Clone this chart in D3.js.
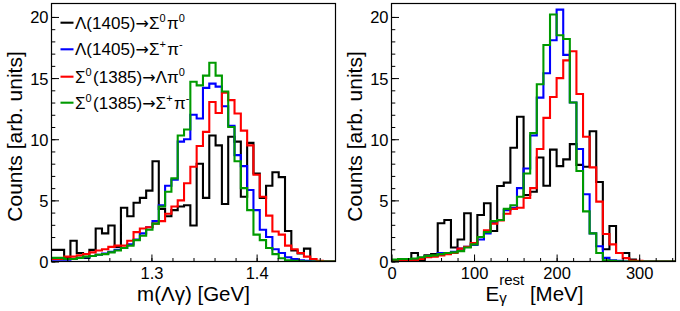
<!DOCTYPE html>
<html><head><meta charset="utf-8">
<script src="https://cdn.jsdelivr.net/npm/d3@7"></script>
<style>
body{margin:0;background:#fff}
svg{display:block}
text{font-family:"Liberation Sans",Arial,Helvetica,sans-serif;fill:#000}
</style>
</head><body>
<svg id="chart" width="680" height="311"></svg>
<script>
// ---------- data ----------
const massRange = [1.205, 1.475];      // GeV, 45 bins of 6 MeV
const energyRange = [0, 344];          // MeV, 43 bins of 8 MeV
const countRange = [0, 21.1];
const massTicks = [1.3, 1.4];
const energyTicks = [0, 100, 200, 300];
const countTicks = [0, 5, 10, 15, 20];

const seriesNames = ["Λ(1405)→Σ0π0", "Λ(1405)→Σ+π-", "Σ0(1385)→Λπ0", "Σ0(1385)→Σ+π-"];
const seriesColors = ["#000000", "#0000ff", "#ff0000", "#009a00"];

// m(Λγ) distributions
const massL1405S0Pi0 = [0.95,0.95,0.35,1.7,0.7,0.3,0.95,2.7,2.3,2.95,1.2,4.4,3.7,4.8,5.2,5.8,8.2,4.3,3.7,4.2,4.5,4.6,2.95,8.0,5.2,10.3,9.5,4.7,10.2,9.8,5.3,9.7,7.2,5.2,6.2,7.3,6.9,2.5,0.9,0.65,1.05,0,0,0,0];
const massL1405SpPim = [0.15,0.15,0.15,0.2,0.3,0.35,0.45,0.55,0.65,0.8,0.95,1.1,1.4,1.8,2.3,2.8,3.3,4.6,6.2,6.7,9.8,10.0,12.0,11.7,14.2,14.55,14.3,12.7,11.1,8.7,7.8,5.85,4.2,2.6,2.0,1.0,0.7,0.35,0.2,0.1,0.05,0,0,0,0];
const massS1385LPi0 = [0.2,0.2,0.4,0.4,0.5,0.6,0.75,0.9,1.0,1.2,1.3,1.3,1.7,2.4,2.7,2.8,3.1,3.3,3.9,4.5,5.0,6.4,7.75,9.45,10.6,13.05,12.15,13.8,13.2,12.1,10.7,9.5,7.1,5.3,3.75,2.45,2.2,1.3,1.0,0.7,0.4,0.2,0.05,0,0];
const massS1385SpPim = [0.3,0.3,0.2,0.2,0.3,0.4,0.45,0.55,0.6,0.75,0.9,1.1,1.3,1.75,2.1,2.6,3.1,4.5,5.7,6.8,10.3,10.8,14.7,14.4,15.2,16.25,15.2,13.9,11.0,8.2,6.0,4.2,2.2,1.75,1.1,0.6,0.27,0.1,0.05,0.02,0,0,0,0,0];

// E_gamma^rest distributions
const energyL1405S0Pi0 = [0.1,0.15,0.15,0.7,0.05,0.5,0.6,3.13,3.4,1.15,1.8,3.95,1.4,3.8,4.76,2.5,6.18,6.45,9.3,11.84,5.44,5.7,8.5,6.2,9.15,7.8,8.35,9.6,7.9,7.75,10.65,6.5,1.0,2.9,0.7,0.7,0.15,0,0,0,0,0,0];
const energyL1405SpPim = [0.1,0.15,0.2,0.2,0.3,0.4,0.45,0.7,0.7,0.8,1.05,1.2,1.35,1.8,2.3,3.2,3.4,4.2,4.4,6.0,7.6,10.3,13.4,15.4,18.1,20.6,16.9,13.0,9.2,5.5,2.3,1.25,0.3,0.1,0.05,0,0,0,0,0,0,0,0];
const energyS1385LPi0 = [0.05,0.1,0.1,0.1,0.2,0.35,0.4,0.5,0.6,0.7,1.05,1.2,1.5,2.0,2.55,3.1,3.35,3.9,4.3,4.4,5.2,6.0,9.2,11.75,13.45,15.0,16.45,17.2,13.7,10.2,7.7,4.9,2.25,1.4,0.7,0.28,0.08,0.05,0,0,0,0,0];
const energyS1385SpPim = [0.15,0.2,0.2,0.25,0.35,0.45,0.5,0.6,0.7,0.75,0.85,1.15,1.4,2.0,2.4,3.3,3.4,4.3,4.6,5.3,7.2,10.5,14.5,17.7,20.2,18.5,18.2,13.0,7.4,4.1,2.3,0.7,0.1,0.05,0.02,0,0,0,0,0,0,0,0];

// ---------- drawing ----------
const svg = d3.select("#chart");
const TOP = 3.5, BOTTOM = 261.5;

function drawPanel(cfg) {
  const g = svg.append("g");
  const x = d3.scaleLinear().domain(cfg.xRange).range([cfg.left, cfg.right]);
  const y = d3.scaleLinear().domain(countRange).range([BOTTOM, TOP]);
  const clipId = "clip" + cfg.id;
  svg.append("clipPath").attr("id", clipId).append("rect")
    .attr("x", cfg.left).attr("y", TOP).attr("width", cfg.right - cfg.left).attr("height", BOTTOM - TOP);

  // histograms
  const hg = g.append("g").attr("clip-path", `url(#${clipId})`);
  cfg.series.forEach((vals, i) => {
    const n = vals.length;
    const w = (cfg.xRange[1] - cfg.xRange[0]) / n;
    const pts = vals.map((v, k) => [cfg.xRange[0] + k * w, v]);
    pts.push([cfg.xRange[1], vals[n - 1]]);
    const line = d3.line().x(d => x(d[0])).y(d => y(d[1])).curve(d3.curveStepAfter);
    hg.append("path").attr("d", line(pts)).attr("fill", "none")
      .attr("stroke", seriesColors[i]).attr("stroke-width", 2.1).attr("stroke-linejoin", "miter");
  });

  // axes (ticks inside)
  const xMaj = g.append("g").attr("transform", `translate(0,${BOTTOM})`)
    .call(d3.axisBottom(x).tickValues(cfg.xTicks).tickSize(-7).tickPadding(5.5).tickFormat(cfg.fmt));
  const xMin = g.append("g").attr("transform", `translate(0,${BOTTOM})`)
    .call(d3.axisBottom(x).tickValues(cfg.xMinor).tickSize(-3.5).tickFormat(""));
  const yMaj = g.append("g").attr("transform", `translate(${cfg.left},0)`)
    .call(d3.axisLeft(y).tickValues(countTicks).tickSize(-7.5).tickPadding(3).tickFormat(d3.format("d")));
  const yMin = g.append("g").attr("transform", `translate(${cfg.left},0)`)
    .call(d3.axisLeft(y).tickValues(d3.range(0, 21, 1)).tickSize(-3.8).tickFormat(""));
  [xMaj, xMin, yMaj, yMin].forEach(a => {
    a.select(".domain").remove();
    a.selectAll("line").attr("stroke", "#000").attr("stroke-width", 1);
    a.selectAll("text").attr("font-size", 16.5).attr("font-family", '"Liberation Sans",Arial,sans-serif');
  });
  yMaj.selectAll("text").attr("dy", "0.36em");

  // frame
  g.append("rect").attr("x", cfg.left).attr("y", TOP)
    .attr("width", cfg.right - cfg.left).attr("height", BOTTOM - TOP)
    .attr("fill", "none").attr("stroke", "#000").attr("stroke-width", 1.2);

  // y title
  g.append("text").attr("transform", `translate(${cfg.left - 30},${(TOP + BOTTOM) / 2 + 4}) rotate(-90)`)
    .attr("text-anchor", "middle").attr("font-size", 21).text("Counts [arb. units]");

  // x title
  const xt = g.append("text").attr("x", (cfg.left + cfg.right) / 2).attr("y", 301)
    .attr("text-anchor", "middle").attr("font-size", 20.5);
  cfg.xTitle(xt);
  return {x, y};
}

function addRich(textSel, parts, supSize) {
  parts.forEach(p => {
    if (p.sup) {
      textSel.append("tspan").attr("dy", -7).attr("font-size", supSize).text(p.t);
      textSel.append("tspan").attr("dy", 7).text("\u200A");
    } else if (p.arrow) {
      textSel.append("tspan").attr("font-family", '"DejaVu Sans",sans-serif').attr("font-size", 16).text("→");
      textSel.append("tspan").text("");
    } else {
      textSel.append("tspan").text(p.t);
    }
  });
}

const massMinor = d3.range(1.22, 1.47, 0.02).map(v => +v.toFixed(3));
drawPanel({
  id: "m", left: 51.5, right: 335.5, xRange: massRange, xTicks: massTicks, xMinor: massMinor,
  fmt: d3.format(".1f"),
  series: [massL1405S0Pi0, massL1405SpPim, massS1385LPi0, massS1385SpPim],
  xTitle: t => t.text("m(Λγ) [GeV]")
});

const energyMinor = d3.range(20, 344, 20);
drawPanel({
  id: "e", left: 391.5, right: 675.5, xRange: energyRange, xTicks: energyTicks, xMinor: energyMinor,
  fmt: d3.format("d"),
  series: [energyL1405S0Pi0, energyL1405SpPim, energyS1385LPi0, energyS1385SpPim],
  xTitle: t => {
    t.attr("text-anchor", null).attr("x", 485.5);
    t.append("tspan").text("E");
    const sub = t.append("tspan").attr("font-size", 15).attr("dy", 2).text("γ");
    const gw = sub.node().getComputedTextLength();
    t.append("tspan").attr("font-size", 15).attr("dx", -gw).attr("dy", -18).text("rest");
    t.append("tspan").attr("dy", 16).text(" [MeV]");
  }
});

// legend
const legendParts = [
  [{t:"Λ(1405)"},{arrow:true},{t:"Σ"},{t:"0",sup:true},{t:"π"},{t:"0",sup:true}],
  [{t:"Λ(1405)"},{arrow:true},{t:"Σ"},{t:"+",sup:true},{t:"π"},{t:"-",sup:true}],
  [{t:"Σ"},{t:"0",sup:true},{t:"(1385)"},{arrow:true},{t:"Λπ"},{t:"0",sup:true}],
  [{t:"Σ"},{t:"0",sup:true},{t:"(1385)"},{arrow:true},{t:"Σ"},{t:"+",sup:true},{t:"π"},{t:"-",sup:true}]
];
const legendY = [22.7, 49.3, 76.7, 102.7];
const lg = svg.append("g");
legendParts.forEach((parts, i) => {
  lg.append("line").attr("x1", 60.5).attr("x2", 73.5).attr("y1", legendY[i]).attr("y2", legendY[i])
    .attr("stroke", seriesColors[i]).attr("stroke-width", 2.1);
  const t = lg.append("text").attr("x", 75).attr("y", legendY[i] + 6).attr("font-size", 17);
  addRich(t, parts, 11);
});
</script>
</body></html>
